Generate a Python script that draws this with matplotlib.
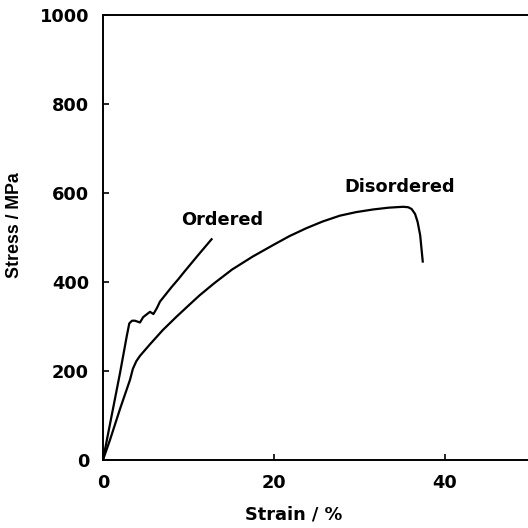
import matplotlib
matplotlib.use("Agg")
import matplotlib.pyplot as plt

# Stress-strain data (strain in %, stress in MPa)
ordered_strain = [0.0, 1.0, 2.0, 2.8, 3.08, 3.4, 3.74, 4.33, 4.7, 5.5, 5.9, 6.3, 6.67, 8.0, 8.8, 9.6, 11.2, 12.7]
ordered_stress = [0, 98, 196, 280, 307, 313, 313, 309, 321, 333, 328, 341, 356, 388, 406, 425, 462, 496]

disordered_strain = [0.0, 0.82, 2.0, 3.16, 3.5, 3.9, 4.33, 5.5, 7.0, 8.6, 10.0, 11.3, 13.0, 15.1,
                     17.5, 19.9, 21.8, 23.8, 25.7, 27.7, 29.6, 31.6, 33.4, 35.1, 35.7, 36.1,
                     36.5, 36.8, 37.1, 37.4]
disordered_stress = [0, 45, 115, 180, 205, 222, 234, 260, 292, 322, 347, 370, 397, 428,
                     457, 483, 503, 521, 536, 549, 557, 563, 567, 569, 568, 564,
                     553, 535, 505, 446]

x_ticks = [0, 20, 40]
y_ticks = [0, 200, 400, 600, 800, 1000]

plt.rcParams['font.family'] = ['DejaVu Sans']
plt.rcParams['font.weight'] = 'bold'

fig = plt.figure(figsize=(5.28, 5.28), dpi=100)
ax = fig.add_axes([0.195, 0.1288, 0.8097, 0.8428])

ax.plot(ordered_strain, ordered_stress, color='black', lw=1.6)
ax.plot(disordered_strain, disordered_stress, color='black', lw=1.6)

ax.set_xlim(0, 50)
ax.set_ylim(0, 1000)
ax.set_xticks(x_ticks)
ax.set_yticks(y_ticks)
ax.tick_params(direction='in', length=4, width=1.2, labelsize=12.8, pad=10,
               top=False, right=False)
for lbl in ax.get_xticklabels() + ax.get_yticklabels():
    lbl.set_fontweight('bold')

for side in ['left', 'bottom', 'top']:
    ax.spines[side].set_linewidth(1.4)
ax.spines['right'].set_visible(False)

ax.set_xlabel('Strain / %', fontsize=12.8, fontweight='bold', va='center')
ax.set_ylabel('Stress / MPa', fontsize=12.8, fontweight='bold', va='center',
              family=['Liberation Sans', 'DejaVu Sans'])
ax.xaxis.set_label_coords(0.447, -0.1236)
ax.yaxis.set_label_coords(-0.206, 0.527)

ax.text(13.9, 539, 'Ordered', fontsize=12.8, fontweight='bold', ha='center', va='center')
ax.text(34.7, 613, 'Disordered', fontsize=12.8, fontweight='bold', ha='center', va='center')

fig.savefig('out.png', dpi=100)
